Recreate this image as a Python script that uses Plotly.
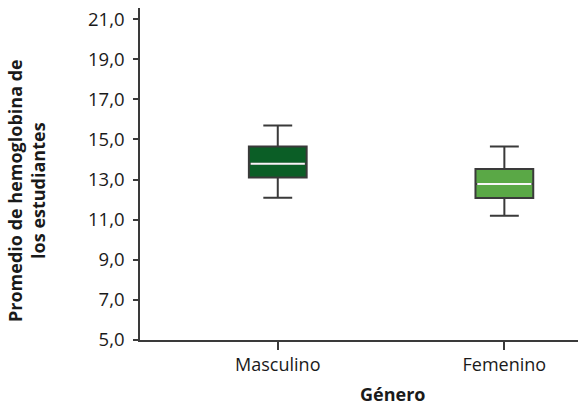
import plotly.graph_objects as go

categories = ["Masculino", "Femenino"]
positions = [0, 1]
lower_whisker = [12.09, 11.20]
q1 = [13.10, 12.08]
median = [13.79, 12.78]
q3 = [14.65, 13.52]
upper_whisker = [15.69, 14.65]
fill_colors = ["#0b5e26", "#5aa846"]
y_ticks = [5, 7, 9, 11, 13, 15, 17, 19, 21]

BOX_W = 0.255
FONT = "Open Sans"

W, H = 578, 407
L, T, B = 140, 8, 67
PW, PH = W - L, H - B - T

fig = go.Figure()
for i, cat in enumerate(categories):
    fig.add_trace(go.Box(
        x=[positions[i]], q1=[q1[i]], median=[median[i]], q3=[q3[i]],
        lowerfence=[lower_whisker[i]], upperfence=[upper_whisker[i]],
        name=cat, width=BOX_W, whiskerwidth=0.5,
        fillcolor=fill_colors[i], line=dict(color="#3a3a3a", width=2),
        boxpoints=False, showlegend=False, hoverinfo="skip",
    ))
    # white median line drawn over the box
    fig.add_trace(go.Scatter(
        x=[positions[i] - BOX_W / 2 + 0.008, positions[i] + BOX_W / 2 - 0.008],
        y=[median[i], median[i]], mode="lines",
        line=dict(color="#f6f6f6", width=2),
        showlegend=False, hoverinfo="skip",
    ))

fig.update_layout(
    width=W, height=H,
    margin=dict(l=L, r=0, t=T, b=B, autoexpand=False),
    paper_bgcolor="white", plot_bgcolor="white",
    separators=",.",
    font=dict(family=FONT, size=18, color="#1a1a1a"),
    xaxis=dict(
        range=[-0.608, 1.325], tickvals=positions, ticktext=categories,
        showline=True, linecolor="#3a3a3a", linewidth=1.5,
        ticks="outside", ticklen=8, tickcolor="#3a3a3a", tickwidth=1.5,
        showgrid=False, zeroline=False, tickfont=dict(size=18),
        automargin=False,
    ),
    yaxis=dict(
        range=[5, 21.55], tickvals=y_ticks, tickformat=".1f",
        showline=True, linecolor="#3a3a3a", linewidth=1.5,
        ticks="outside", ticklen=5, tickcolor="#3a3a3a", tickwidth=1.5,
        showgrid=False, zeroline=False, tickfont=dict(size=18.5),
        ticklabelstandoff=5, automargin=False,
    ),
    annotations=[
        dict(text="<b>Promedio de hemoglobina de<br>los estudiantes</b>",
             textangle=-90, xref="paper", yref="paper",
             x=(26 - L) / PW, y=(T + PH - 191) / PH,
             xanchor="center", yanchor="middle", showarrow=False,
             font=dict(size=18)),
        dict(text="<b>Género</b>", xref="paper", yref="paper",
             x=(392 - L) / PW, y=(T + PH - 394) / PH,
             xanchor="center", yanchor="middle", showarrow=False,
             font=dict(size=18)),
    ],
)

fig.write_html(
    "out.html",
    config={"displayModeBar": False},
    post_script="document.body.style.margin='0';document.body.style.overflow='hidden';",
)
